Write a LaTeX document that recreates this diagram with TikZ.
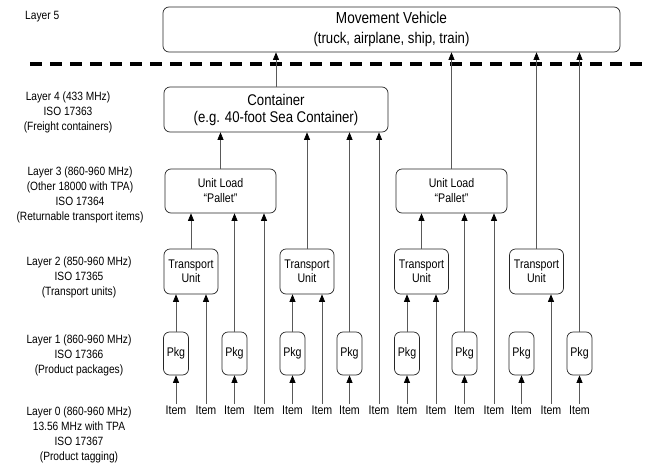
\documentclass[tikz,border=0pt]{standalone}
\usepackage{fontspec}
\setmainfont{Liberation Sans}[FakeStretch=0.85]
\usetikzlibrary{arrows.meta}
\begin{document}
\begin{tikzpicture}[x=1pt,y=-1pt,
  box/.style={draw=black!85, line width=0.7pt, rounded corners=6pt, inner sep=0pt, align=center},
  arr/.style={draw=black!65, line width=0.7pt, -{Triangle[length=7.5pt,width=6pt,color=black]}},
  lbl/.style={align=center, font=\fontsize{12}{15}\selectfont, inner sep=0pt},
  item/.style={font=\fontsize{12.5}{14}\selectfont, inner sep=1.5pt},
  pkg/.style={box, minimum width=25pt, minimum height=43pt, font=\fontsize{12.5}{15}\selectfont},
  tu/.style={box, minimum width=54pt, minimum height=45pt, font=\fontsize{12.5}{14.5}\selectfont},
  ul/.style={box, minimum width=111pt, minimum height=44pt, font=\fontsize{12.5}{15}\selectfont},
  sep/.style={line width=3.5pt, dash pattern=on 12pt off 8pt}
]
\useasboundingbox (0,0) rectangle (648,466);
% layer labels
\node[lbl, anchor=west] (l5) at (25,17) {Layer 5};
\node[lbl] (l4) at (68,112) {Layer 4 (433 MHz)\\ISO 17363\\(Freight containers)};
\node[lbl] (l3) at (80,195) {Layer 3 (860-960 MHz)\\(Other 18000 with TPA)\\ISO 17364\\(Returnable transport items)};
\node[lbl] (l2) at (79,277) {Layer 2 (850-960 MHz)\\ISO 17365\\(Transport units)};
\node[lbl] (l1) at (79,355) {Layer 1 (860-960 MHz)\\ISO 17366\\(Product packages)};
\node[lbl] (l0) at (79,434.5) {Layer 0 (860-960 MHz)\\13.56 MHz with TPA\\ISO 17367\\(Product tagging)};
% separator
\coordinate (s0) at (30,64);
\coordinate (s1) at (648,64);
\draw[sep] (s0) -- (s1);
% boxes
\node[box, minimum width=457pt, minimum height=45pt, font=\fontsize{15.5}{20}\selectfont] (mv) at (391.5,29.5)
  {{\fontsize{16}{20}\selectfont Movement Vehicle}\\(truck, airplane, ship, train)};
\node[box, minimum width=224pt, minimum height=45pt, font=\fontsize{15.5}{17}\selectfont] (ct) at (276,109.5)
  {Container\\(e.g. 40-foot Sea Container)};
\node[ul] (ul1) at (220.5,191) {Unit Load\\“Pallet”};
\node[ul] (ul2) at (451.5,191) {Unit Load\\“Pallet”};
\node[tu] (tu1) at (191,271.5) {Transport\\Unit};
\node[tu] (tu2) at (307,271.5) {Transport\\Unit};
\node[tu] (tu3) at (421.5,271.5) {Transport\\Unit};
\node[tu] (tu4) at (536.5,271.5) {Transport\\Unit};
\foreach \n/\x in {1/176,2/234.5,3/292.5,4/349.5,5/407,6/464.5,7/521.5,8/579.5}
  \node[pkg] (p\n) at (\x,353.5) {Pkg};
\foreach \n/\x in {1/176,2/206,3/234.5,4/264,5/292.5,6/322,7/349.5,8/379,9/407,10/436,11/464.5,12/494,13/521.5,14/551,15/579.5}
  \node[item] (i\n) at (\x,410) {Item};
% items to upper
\draw[arr] (i1.north) -- (i1.north |- p1.south);
\draw[arr] (i2.north) -- (i2.north |- tu1.south);
\draw[arr] (i3.north) -- (i3.north |- p2.south);
\draw[arr] (i4.north) -- (i4.north |- ul1.south);
\draw[arr] (i5.north) -- (i5.north |- p3.south);
\draw[arr] (i6.north) -- (i6.north |- tu2.south);
\draw[arr] (i7.north) -- (i7.north |- p4.south);
\draw[arr] (i8.north) -- (i8.north |- ct.south);
\draw[arr] (i9.north) -- (i9.north |- p5.south);
\draw[arr] (i10.north) -- (i10.north |- tu3.south);
\draw[arr] (i11.north) -- (i11.north |- p6.south);
\draw[arr] (i12.north) -- (i12.north |- ul2.south);
\draw[arr] (i13.north) -- (i13.north |- p7.south);
\draw[arr] (i14.north) -- (i14.north |- tu4.south);
\draw[arr] (i15.north) -- (i15.north |- p8.south);
% packages to upper
\draw[arr] (p1.north) -- (p1.north |- tu1.south);
\draw[arr] (p2.north) -- (p2.north |- ul1.south);
\draw[arr] (p3.north) -- (p3.north |- tu2.south);
\draw[arr] (p4.north) -- (p4.north |- ct.south);
\draw[arr] (p5.north) -- (p5.north |- tu3.south);
\draw[arr] (p6.north) -- (p6.north |- ul2.south);
\draw[arr] (p8.north) -- (p8.north |- mv.south);
% transport units to upper
\draw[arr] (tu1.north) -- (tu1.north |- ul1.south);
\draw[arr] (tu2.north) -- (tu2.north |- ct.south);
\draw[arr] (tu3.north) -- (tu3.north |- ul2.south);
\draw[arr] (tu4.north) -- (tu4.north |- mv.south);
% unit loads and container to upper
\draw[arr] (ul1.north) -- (ul1.north |- ct.south);
\draw[arr] (ul2.north) -- (ul2.north |- mv.south);
\draw[arr] (ct.north) -- (ct.north |- mv.south);
\end{tikzpicture}
\end{document}
